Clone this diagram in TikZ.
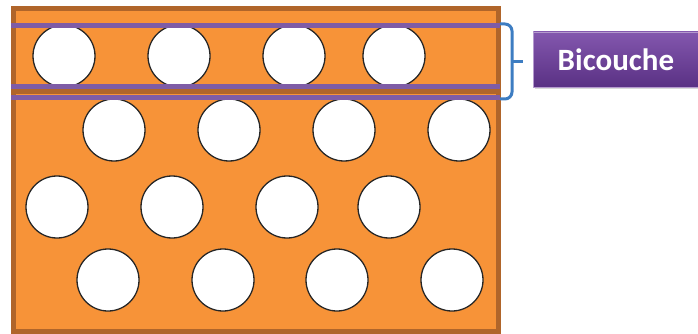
\documentclass[tikz,border=0pt]{standalone}
\usepackage{fontspec}
\setmainfont{Carlito}
\usetikzlibrary{shadows}
\definecolor{layerfill}{HTML}{F79338}
\definecolor{layeredge}{HTML}{B0652A}
\definecolor{sepline}{HTML}{7E5CA6}
\definecolor{bracecol}{HTML}{3D7DC2}
\definecolor{tagtop}{HTML}{8357AE}
\definecolor{tagbot}{HTML}{5A3184}
\begin{document}
\begin{tikzpicture}[x=1pt,y=-1pt,
    layer/.style={fill=layerfill,draw=layeredge,line width=5pt},
    hole/.style={circle,draw=black!85,line width=1.3pt,fill=white,minimum size=62pt,inner sep=0pt},
    sep/.style={draw=sepline,line width=5pt},
    bracket/.style={draw=bracecol,line width=3pt,rounded corners=7pt},
    tag/.style={top color=tagtop,bottom color=tagbot,draw=tagtop!60!white,line width=0.8pt,
        minimum width=165pt,minimum height=55pt,text=white,font=\fontsize{31}{36}\selectfont\bfseries,
        drop shadow={shadow xshift=2pt,shadow yshift=-2pt,opacity=0.3}}]
    \useasboundingbox (0,0) rectangle (698,334);

    % Layers
    \draw[layer] (13.5,8.5) rectangle (498.5,92);
    \draw[layer] (13.5,92) rectangle (498.5,331);

    % Holes
    \foreach \x [count=\i] in {64,179,294,394} \node[hole] (a\i) at (\x,56) {};
    \foreach \x [count=\i] in {114,229,344,459} \node[hole] (b\i) at (\x,130) {};
    \foreach \x [count=\i] in {57,172,287,389} \node[hole] (c\i) at (\x,207) {};
    \foreach \x [count=\i] in {108,223,337,452} \node[hole] (d\i) at (\x,280) {};

    % Bilayer lines
    \foreach \y in {25.5,86.5,98} \draw[sep] (11,\y) -- (500,\y);

    % Brace and label
    \coordinate (btop) at (500,24);
    \coordinate (bbot) at (500,99);
    \coordinate (bmid) at (512,61.5);
    \coordinate (btip) at (523,61.5);
    \draw[bracket] (btop) -| (bmid) |- (bbot);
    \draw[bracket] (bmid) -- (btip);
    \node[tag,anchor=west] (bicouche) at (533,59.5) {Bicouche};
\end{tikzpicture}
\end{document}
